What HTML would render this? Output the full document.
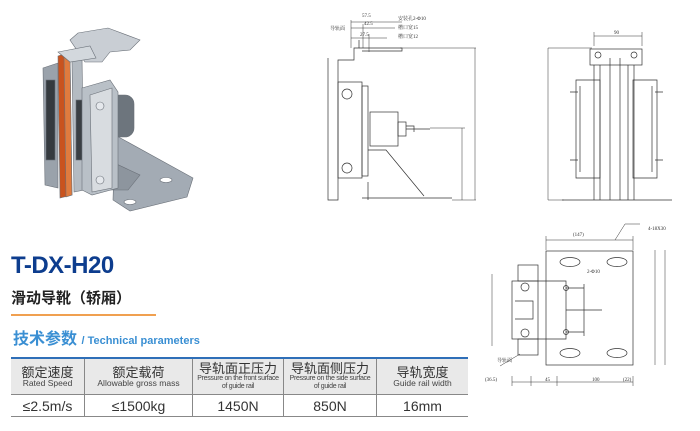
<!DOCTYPE html>
<html><head><meta charset="utf-8"><style>
body{margin:0;width:700px;height:431px;background:#fff;position:relative;overflow:hidden;font-family:"Liberation Sans","Noto Sans CJK SC",sans-serif}
.a{position:absolute}
table{position:absolute;left:11px;top:357px;width:457px;border-collapse:collapse;border-top:2px solid #2f6fb8}
td{border-right:1px solid #888;text-align:center;padding:0;color:#333}
td:last-child{border-right:none}
tr.h td{background:#e9e9e9;height:35px;border-bottom:1px solid #888;line-height:1}
tr.r td{height:21px;border-bottom:1.5px solid #888;font-size:14px}
.c{font-size:13px;display:block}
.e{font-size:8.5px;display:block;color:#444}
.s{font-size:7px;letter-spacing:-.3px;display:block;color:#444;line-height:1.2}
</style></head><body>
<div class="a" style="left:11px;top:252px;font-size:24px;font-weight:bold;color:#0d3d8e;letter-spacing:-0.5px">T-DX-H20</div>
<div class="a" style="left:11px;top:287px;font-size:15px;font-weight:bold;color:#222">滑动导靴（轿厢）</div>
<div class="a" style="left:11px;top:314px;width:145px;height:1.5px;background:#f0a050"></div>
<div class="a" style="left:13px;top:325px;font-size:16px;font-weight:bold;color:#3a8fd3">技术参数 <span style="font-size:11px">/ Technical parameters</span></div>
<table>
<tr class="h"><td style="width:73px"><span class="c">额定速度</span><span class="e">Rated Speed</span></td>
<td style="width:107px"><span class="c">额定载荷</span><span class="e">Allowable gross mass</span></td>
<td style="width:90px"><span class="c">导轨面正压力</span><span class="s">Pressure on the front surface<br>of guide rail</span></td>
<td style="width:92px"><span class="c">导轨面侧压力</span><span class="s">Pressure on the side surface<br>of guide rail</span></td>
<td><span class="c">导轨宽度</span><span class="e">Guide rail width</span></td></tr>
<tr class="r"><td>≤2.5m/s</td><td>≤1500kg</td><td>1450N</td><td>850N</td><td>16mm</td></tr>
</table>
<svg class="a" style="left:0;top:0" width="700" height="431">
<!-- photo -->
<g stroke="#6a7078" stroke-width=".6">
<polygon points="115,135 193,178 187,197 130,211 113,200" fill="#a3abb4"/>
<ellipse cx="166" cy="180" rx="6" ry="2.5" fill="#fff"/><ellipse cx="130" cy="202" rx="6" ry="2.5" fill="#fff"/>
<polygon points="108,160 140,175 128,190 108,190" fill="#8d959e"/>
<rect x="110" y="95" width="24" height="42" rx="9" fill="#6d757d"/>
<polygon points="70,40 78,33 108,28 140,40 130,50 110,52 102,62 85,62" fill="#c9ced4"/>
<polygon points="43,68 58,63 58,188 45,185" fill="#9aa2ab"/>
<rect x="46" y="80" width="9" height="80" fill="#353a3f"/>
<polygon points="58,56 70,52 72,195 60,198" fill="#c9531e"/>
<polygon points="64,55 70,52 72,195 66,197" fill="#e07b3e"/>
<polygon points="72,62 82,58 84,190 74,192" fill="#b4bbc2"/>
<rect x="76" y="100" width="8" height="60" fill="#3a3f44"/>
<polygon points="82,88 110,80 118,92 118,188 92,195 82,190" fill="#b9c0c7"/>
<polygon points="90,95 112,88 112,188 92,192" fill="#d8dce0"/>
<circle cx="100" cy="106" r="4" fill="#e5e8ec"/><circle cx="100" cy="180" r="4" fill="#e5e8ec"/>
<polygon points="58,52 90,46 96,58 70,62" fill="#d3d8dd"/>
</g>
<!-- drawings -->
<g fill="none" stroke="#333" stroke-width=".7">
<path d="M328 58v142h10v-140h16v-12h5v-8"/>
<path d="M359 48h43v3h-40"/>
<rect x="338" y="82" width="24" height="96"/>
<rect x="362" y="86" width="6" height="90"/>
<rect x="370" y="112" width="28" height="34"/>
<rect x="398" y="122" width="8" height="14"/>
<path d="M406 129h24M406 126h8v6"/>
<circle cx="347" cy="94" r="5"/><circle cx="347" cy="168" r="5"/>
<path d="M368 150h18l38 46M362 198h90M368 182v18"/>
<path d="M475 48v152M462 128v72M400 48h76M430 128h35M452 200h24" stroke-width=".5"/>
<path d="M351 20v28M363 24v24M369 34v18M351 22h51M351 28h44M351 38h36" stroke-width=".5"/>
<rect x="590" y="49" width="52" height="16"/>
<path d="M594 65v135M600 65v135M628 65v135M634 65v135M610 58v142M620 58v142"/>
<path d="M576 80h24v98h-24zM633 80h24v98h-24zM580 86v86M652 86v86M562 200h110"/>
<path d="M594 36h48M594 32v14M642 32v14M548 48v152M548 48h44M548 200h16" stroke-width=".5"/>
<circle cx="598" cy="55" r="3"/><circle cx="634" cy="55" r="3"/>
<path d="M570 92h8M570 160h8M655 92h8M655 160h8"/>
<rect x="546" y="251" width="87" height="114"/>
<ellipse cx="570" cy="262" rx="10" ry="4.5"/><ellipse cx="617" cy="262" rx="10" ry="4.5"/>
<ellipse cx="570" cy="353" rx="10" ry="4.5"/><ellipse cx="617" cy="353" rx="10" ry="4.5"/>
<rect x="512" y="281" width="26" height="58"/>
<path d="M538 281h28v58h-28M515 301h18v18h-18"/>
<circle cx="525" cy="287" r="4"/><circle cx="525" cy="333" r="4"/>
<rect x="518" y="265" width="20" height="16"/><rect x="518" y="339" width="20" height="16"/>
<path d="M566 288h18M566 332h18M566 310h36M584 284v52"/>
<circle cx="566" cy="288" r="2.5"/><circle cx="566" cy="332" r="2.5"/>
<path d="M546 240h87M546 236v14M633 236v14M655 250v115M665 250v115M492 274v72M512 382h121M512 376v10M531 376v10M557 376v10M633 376v10" stroke-width=".5"/>
<path d="M500 366l20-12M615 240l10-16h15" stroke-width=".5"/>
</g>
<g font-size="5" fill="#333" font-family="Liberation Serif,Noto Serif CJK SC,serif">
<text x="362" y="17">57.5</text><text x="364" y="25">42.5</text><text x="360" y="36">27.5</text>
<text x="398" y="20">安装孔2-Φ10</text><text x="398" y="29">槽口宽15</text><text x="398" y="38">槽口宽12</text>
<text x="330" y="30">导轨面</text>
<text x="614" y="34">90</text>
<text x="573" y="236">(147)</text><text x="648" y="230">4-18X30</text><text x="587" y="273">2-Φ10</text>
<text x="485" y="381">(36.5)</text><text x="545" y="381">45</text><text x="592" y="381">100</text><text x="623" y="381">(22)</text>
<text x="497" y="362">导轨面</text>
</g>
</svg>
</body></html>
